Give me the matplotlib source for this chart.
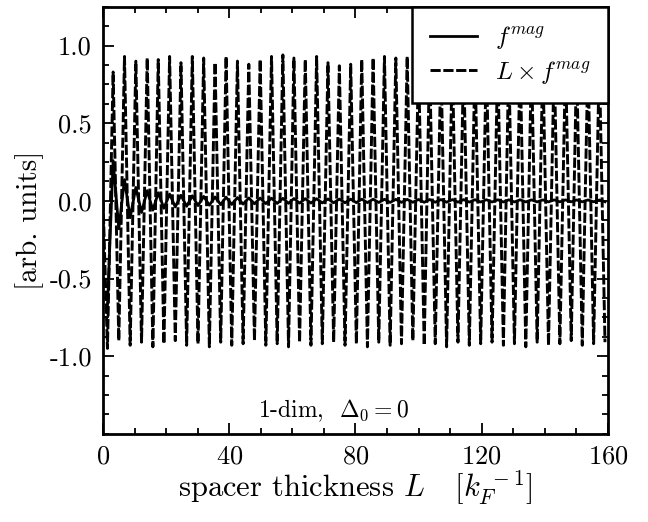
import numpy as np
import matplotlib
matplotlib.use('agg')
import matplotlib.pyplot as plt
from matplotlib.ticker import MultipleLocator

plt.rcParams['font.family'] = 'serif'
plt.rcParams['font.serif'] = ['cmr10', 'DejaVu Serif']
plt.rcParams['mathtext.fontset'] = 'cm'
plt.rcParams['axes.formatter.use_mathtext'] = True
plt.rcParams['axes.unicode_minus'] = False

# extrema of L x f^mag
peak_L = [3.2, 6.8, 10.4, 14.0, 17.5, 21.1, 24.7, 28.3, 31.9, 35.5, 39.0,
          42.6, 46.2, 49.8, 53.4, 57.0, 60.5, 64.1, 67.7, 71.3, 74.9, 78.5,
          82.0, 85.6, 89.2, 92.8, 96.4, 100.0, 103.5, 107.1, 110.7, 114.3,
          117.9, 121.5, 125.1, 128.6, 132.2, 135.8, 139.4, 143.0, 146.6,
          150.1, 153.7, 157.3]
peak_val = [0.83, 0.93, 0.90, 0.92, 0.91, 0.93, 0.89, 0.93, 0.92, 0.89, 0.93,
            0.90, 0.88, 0.91, 0.93, 0.94, 0.92, 0.91, 0.93, 0.89, 0.87, 0.88,
            0.91, 0.92, 0.93, 0.92, 0.93, 0.90, 0.91, 0.90, 0.92, 0.91,
            0.90, 0.92, 0.91, 0.90, 0.92, 0.91, 0.90, 0.92, 0.91,
            0.90, 0.92, 0.91]
trough_L = [1.4, 5.0, 8.6, 12.2, 15.8, 19.3, 22.9, 26.5, 30.1, 33.7, 37.3,
            40.8, 44.4, 48.0, 51.6, 55.2, 58.8, 62.3, 65.9, 69.5, 73.1, 76.7,
            80.3, 83.8, 87.4, 91.0, 94.6, 98.2, 101.8, 105.3, 108.9, 112.5,
            116.1, 119.7, 123.3, 126.9, 130.4, 134.0, 137.6, 141.2, 144.8,
            148.4, 151.9, 155.5, 159.1]
trough_val = [-0.95, -0.90, -0.93, -0.91, -0.94, -0.92, -0.90, -0.93, -0.92,
              -0.94, -0.91, -0.93, -0.92, -0.90, -0.93, -0.92, -0.94, -0.91,
              -0.93, -0.92, -0.91, -0.93, -0.92, -0.94, -0.91, -0.93, -0.92,
              -0.90, -0.93, -0.92, -0.94, -0.91, -0.93, -0.92, -0.91, -0.93,
              -0.92, -0.94, -0.91, -0.93, -0.92, -0.90, -0.93, -0.92, -0.91]
start_L, start_val = 0.0, 0.0

L = np.array([start_L] + peak_L + trough_L)
Lf = np.array([start_val] + peak_val + trough_val)
order = np.argsort(L)
L = L[order]
Lf = Lf[order]

# f^mag itself is the dashed curve divided by L
f = Lf[1:] / L[1:]

fig = plt.figure(figsize=(6.48, 5.22), dpi=100)
ax = fig.add_axes([0.159, 0.169, 0.779, 0.818])

ax.plot(L[1:], f, color='black', lw=2.0, label=r'$f^{mag}$')
line, = ax.plot(L, Lf, color='black', lw=2.1, label=r'$L\times f^{mag}$')
line.set_dashes((3.5, 0.9))

ax.set_xlim(0, 160)
ax.set_ylim(-1.5, 1.25)
ax.xaxis.set_major_locator(MultipleLocator(40))
ax.xaxis.set_minor_locator(MultipleLocator(10))
ax.yaxis.set_minor_locator(MultipleLocator(0.125))
ax.set_yticks([-1.0, -0.5, 0.0, 0.5, 1.0])
ax.set_yticklabels(['-1.0', '-0.5', '0.0', '0.5', '1.0'])
ax.tick_params(which='both', direction='in', top=True, right=True, width=1.3,
               labelsize=19, pad=8)
ax.tick_params(which='major', length=8)
ax.tick_params(which='minor', length=4)
for s in ax.spines.values():
    s.set_linewidth(2)

ax.set_xlabel(r'spacer thickness $L$   $[k_F^{\ -1}]$', fontsize=22, labelpad=0)
ax.set_ylabel('[arb. units]', fontsize=21, labelpad=4)
ax.text(73, -1.35, r'1-dim,  $\Delta_0 = 0$', fontsize=17, ha='center', va='center')

leg = ax.legend(loc='upper right', fontsize=18, frameon=True, fancybox=False,
                framealpha=1, edgecolor='black', borderaxespad=0,
                handlelength=1.9, borderpad=0.7, labelspacing=0.3,
                handletextpad=0.7)
leg.get_frame().set_linewidth(1.8)

plt.savefig('out.png', dpi=100)
